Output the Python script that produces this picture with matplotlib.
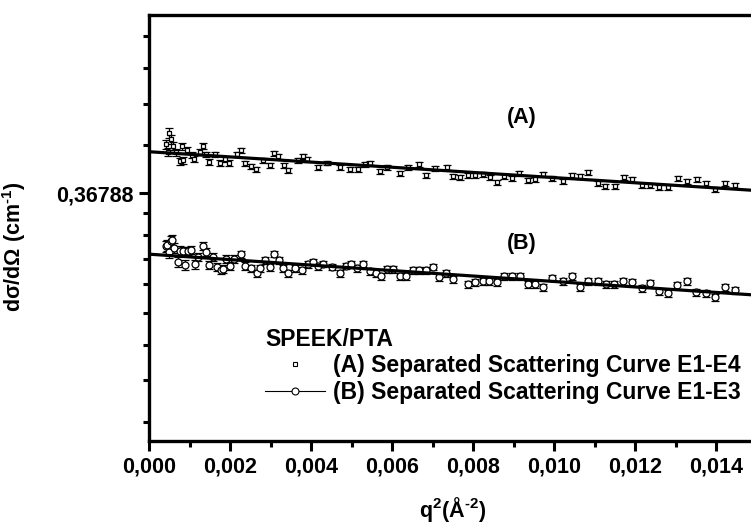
import numpy as np
import matplotlib
matplotlib.use('Agg')
import matplotlib.pyplot as plt
from matplotlib.lines import Line2D
from matplotlib.ticker import FixedLocator, FuncFormatter, MultipleLocator

plt.rcParams['font.family'] = ['Liberation Sans', 'DejaVu Sans']
plt.rcParams['font.weight'] = 'bold'
plt.rcParams['mathtext.fontset'] = 'custom'
plt.rcParams['mathtext.rm'] = 'Liberation Sans:bold'
plt.rcParams['mathtext.it'] = 'Liberation Sans:bold'
plt.rcParams['mathtext.bf'] = 'Liberation Sans:bold'

# (A) Separated Scattering Curve E1-E4
q2_a = [0.00042, 0.00046, 0.00049, 0.00054, 0.00059, 0.00067, 0.00077, 0.00081, 0.00084, 0.00094,
        0.00106, 0.00111, 0.00126, 0.00133, 0.00141, 0.00148, 0.00163, 0.00175, 0.00188, 0.00198,
        0.00217, 0.00227, 0.00237, 0.00252, 0.00264, 0.00281, 0.00299, 0.00309, 0.00319, 0.00333,
        0.00343, 0.00368, 0.00380, 0.00390, 0.00417, 0.00440, 0.00472, 0.00496, 0.00516, 0.00533,
        0.00546, 0.00570, 0.00588, 0.00620, 0.00640, 0.00667, 0.00684, 0.00706, 0.00736, 0.00751,
        0.00768, 0.00788, 0.00805, 0.00825, 0.00842, 0.00859, 0.00877, 0.00896, 0.00914, 0.00936,
        0.00953, 0.00973, 0.00995, 0.01022, 0.01044, 0.01064, 0.01084, 0.01109, 0.01126, 0.01151,
        0.01173, 0.01193, 0.01217, 0.01237, 0.01259, 0.01281, 0.01306, 0.01328, 0.01353, 0.01375,
        0.01398, 0.01422, 0.01447]
i_a = [0.4391, 0.4266, 0.4568, 0.4471, 0.4359, 0.4266, 0.4129, 0.4359, 0.4144, 0.4297,
       0.4220, 0.4159, 0.4266, 0.4359, 0.4235, 0.4114, 0.4235, 0.4100, 0.4159, 0.4100,
       0.4235, 0.4297, 0.4100, 0.4056, 0.4012, 0.4144, 0.4070, 0.4250, 0.4205, 0.4070,
       0.3997, 0.4144, 0.4205, 0.4159, 0.4041, 0.4100, 0.4041, 0.4012, 0.4012, 0.4085,
       0.4100, 0.3983, 0.4041, 0.3954, 0.4041, 0.4085, 0.3926, 0.4026, 0.4041, 0.3912,
       0.3898, 0.3926, 0.3926, 0.3940, 0.3898, 0.3828, 0.3912, 0.3884, 0.3954, 0.3855,
       0.3869, 0.3940, 0.3884, 0.3842, 0.3926, 0.3912, 0.3968, 0.3814, 0.3773, 0.3773,
       0.3898, 0.3869, 0.3787, 0.3787, 0.3759, 0.3759, 0.3884, 0.3842, 0.3869, 0.3814,
       0.3732, 0.3814, 0.3787]
err_a = [0.0070, 0.0065, 0.0085, 0.0070, 0.0060, 0.0055, 0.0055, 0.0055, 0.0050, 0.0050,
         0.0045, 0.0045, 0.0045, 0.0045, 0.0040, 0.0040, 0.0040, 0.0040, 0.0040, 0.0040,
         0.0040, 0.0040, 0.0038, 0.0038, 0.0038, 0.0038, 0.0038, 0.0038, 0.0038, 0.0036,
         0.0036, 0.0036, 0.0036, 0.0036, 0.0035, 0.0035, 0.0035, 0.0035, 0.0035, 0.0035,
         0.0035, 0.0035, 0.0035, 0.0035, 0.0035, 0.0035, 0.0035, 0.0035, 0.0035, 0.0035,
         0.0035, 0.0035, 0.0035, 0.0035, 0.0035, 0.0035, 0.0035, 0.0035, 0.0035, 0.0035,
         0.0035, 0.0035, 0.0035, 0.0035, 0.0035, 0.0035, 0.0035, 0.0035, 0.0035, 0.0035,
         0.0035, 0.0035, 0.0035, 0.0035, 0.0035, 0.0035, 0.0035, 0.0035, 0.0035, 0.0035,
         0.0035, 0.0035, 0.0035]

# (B) Separated Scattering Curve E1-E3
q2_b = [0.00042, 0.00044, 0.00049, 0.00054, 0.00057, 0.00062, 0.00072, 0.00077, 0.00085, 0.00088,
        0.00096, 0.00104, 0.00114, 0.00121, 0.00133, 0.00141, 0.00148, 0.00158, 0.00168, 0.00178,
        0.00183, 0.00190, 0.00200, 0.00210, 0.00227, 0.00237, 0.00252, 0.00267, 0.00274, 0.00286,
        0.00299, 0.00309, 0.00321, 0.00331, 0.00343, 0.00360, 0.00377, 0.00393, 0.00405, 0.00417,
        0.00430, 0.00452, 0.00472, 0.00486, 0.00499, 0.00514, 0.00528, 0.00546, 0.00560, 0.00573,
        0.00588, 0.00602, 0.00620, 0.00635, 0.00652, 0.00667, 0.00684, 0.00701, 0.00716, 0.00733,
        0.00751, 0.00788, 0.00805, 0.00825, 0.00840, 0.00859, 0.00877, 0.00896, 0.00916, 0.00936,
        0.00953, 0.00973, 0.00995, 0.01022, 0.01044, 0.01064, 0.01084, 0.01109, 0.01128, 0.01148,
        0.01170, 0.01193, 0.01217, 0.01237, 0.01259, 0.01281, 0.01304, 0.01328, 0.01351, 0.01375,
        0.01398, 0.01422, 0.01447]
i_b = [0.3038, 0.3049, 0.2973, 0.3094, 0.3105, 0.3016, 0.2868, 0.2984, 0.2984, 0.2837,
       0.2984, 0.2995, 0.2847, 0.2920, 0.3038, 0.2973, 0.2837, 0.2920, 0.2817, 0.2786,
       0.2796, 0.2899, 0.2827, 0.2899, 0.2952, 0.2827, 0.2806, 0.2756, 0.2806, 0.2888,
       0.2817, 0.2952, 0.2888, 0.2806, 0.2756, 0.2806, 0.2786, 0.2847, 0.2868, 0.2827,
       0.2847, 0.2817, 0.2756, 0.2827, 0.2847, 0.2806, 0.2847, 0.2776, 0.2756, 0.2726,
       0.2796, 0.2796, 0.2726, 0.2726, 0.2786, 0.2786, 0.2786, 0.2817, 0.2717, 0.2756,
       0.2697, 0.2649, 0.2668, 0.2677, 0.2677, 0.2668, 0.2726, 0.2726, 0.2726, 0.2649,
       0.2649, 0.2620, 0.2707, 0.2677, 0.2726, 0.2620, 0.2677, 0.2677, 0.2649, 0.2649,
       0.2677, 0.2668, 0.2611, 0.2658, 0.2583, 0.2564, 0.2639, 0.2677, 0.2573, 0.2564,
       0.2527, 0.2620, 0.2592]
err_b = [0.0060, 0.0060, 0.0065, 0.0055, 0.0060, 0.0055, 0.0050, 0.0050, 0.0045, 0.0050,
         0.0045, 0.0045, 0.0045, 0.0040, 0.0045, 0.0040, 0.0040, 0.0040, 0.0040, 0.0040,
         0.0040, 0.0040, 0.0038, 0.0038, 0.0038, 0.0038, 0.0036, 0.0036, 0.0036, 0.0036,
         0.0036, 0.0036, 0.0035, 0.0035, 0.0035, 0.0035, 0.0035, 0.0035, 0.0035, 0.0035,
         0.0034, 0.0034, 0.0034, 0.0034, 0.0034, 0.0034, 0.0034, 0.0034, 0.0034, 0.0034,
         0.0034, 0.0034, 0.0034, 0.0034, 0.0034, 0.0034, 0.0034, 0.0034, 0.0034, 0.0034,
         0.0033, 0.0033, 0.0033, 0.0033, 0.0033, 0.0033, 0.0033, 0.0033, 0.0033, 0.0033,
         0.0033, 0.0033, 0.0033, 0.0033, 0.0033, 0.0033, 0.0033, 0.0033, 0.0033, 0.0033,
         0.0033, 0.0033, 0.0033, 0.0033, 0.0033, 0.0033, 0.0033, 0.0033, 0.0033, 0.0033,
         0.0033, 0.0033, 0.0033]

x_ticks = [0.000, 0.002, 0.004, 0.006, 0.008, 0.010, 0.012, 0.014]
fs = 15.5
fs_leg = 16.5

fig = plt.figure(figsize=(7.51, 5.24), dpi=100)
ax = fig.add_axes([149 / 751, 83 / 524, 628 / 751, 426 / 524])

ax.errorbar(q2_a, i_a, yerr=err_a, fmt='s', ms=3, mfc='white', mec='black', mew=0.9,
            ecolor='black', elinewidth=0.9, capsize=3, capthick=0.9, zorder=3)
ax.errorbar(q2_b, i_b, yerr=err_b, fmt='o', ms=5, mfc='white', mec='black', mew=0.9,
            ecolor='black', elinewidth=0.9, capsize=3, capthick=0.9, zorder=3)

# linear (Guinier) fits of ln(I) against q^2
xfit = np.array([0.0, 0.0155])
pa = np.polyfit(q2_a, np.log(i_a), 1)
pb = np.polyfit(q2_b, np.log(i_b), 1)
ax.plot(xfit, np.exp(np.polyval(pa, xfit)), color='black', lw=2.3, zorder=4)
ax.plot(xfit, np.exp(np.polyval(pb, xfit)), color='black', lw=2.3, zorder=4)

ax.set_yscale('log', base=np.e)
ax.set_xlim(0, 0.0155)
ax.set_ylim(0.1503, 0.700)

e1, e2 = np.exp(-1), np.exp(-2)
ax.yaxis.set_major_locator(FixedLocator([e1]))
ax.yaxis.set_minor_locator(FixedLocator(list(np.linspace(e2, e1, 10)[1:-1]) +
                                        list(np.linspace(e1, 1.0, 10)[1:-1])))
ax.yaxis.set_major_formatter(FuncFormatter(lambda v, p: ('%.5f' % v).replace('.', ',')))
ax.yaxis.set_minor_formatter(FuncFormatter(lambda v, p: ''))

ax.xaxis.set_major_locator(FixedLocator(x_ticks))
ax.xaxis.set_minor_locator(MultipleLocator(0.001))
ax.xaxis.set_major_formatter(FuncFormatter(lambda v, p: ('%.3f' % v).replace('.', ',')))

for s in ['left', 'bottom', 'top', 'right']:
    ax.spines[s].set_linewidth(2.4)
ax.tick_params(which='major', direction='out', length=7, width=2.2, labelsize=fs, pad=4)
ax.tick_params(which='minor', direction='out', length=4, width=2.2)
ax.tick_params(top=False, right=False, which='both')

ax.set_xlabel('q$^{2}$(\u00c5$^{\\text{-2}}$)', fontsize=fs, fontweight='bold')
ax.set_ylabel('d\u03c3/d\u03a9 (cm$^{\\text{-1}}$)', fontsize=fs, fontweight='bold')
ax.xaxis.set_label_coords((453 - 149) / 628, -0.127)
ax.yaxis.set_label_coords(-0.192, 0.455)

ax.text(0.00921, 0.484, '(A)', fontsize=fs, fontweight='bold', ha='center', va='center')
ax.text(0.00921, 0.307, '(B)', fontsize=fs, fontweight='bold', ha='center', va='center')

h_a = Line2D([], [], ls='none', marker='s', ms=3, mfc='white', mec='black', mew=0.8)
h_b = Line2D([], [], color='black', lw=0.8, marker='o', ms=5, mfc='white', mec='black', mew=0.8)
leg = ax.legend([h_a, h_b], ['(A) Separated Scattering Curve E1-E4',
                             '(B) Separated Scattering Curve E1-E3'],
                title='SPEEK/PTA', title_fontproperties={'size': fs_leg, 'weight': 'bold'},
                prop={'size': fs_leg, 'weight': 'bold'}, frameon=False, alignment='left',
                numpoints=1, handlelength=2.6, handletextpad=0.35, labelspacing=0.15,
                borderpad=0, borderaxespad=0,
                loc='upper left', bbox_to_anchor=(116 / 628, (441 - 328) / 426))

fig.savefig('out.png', dpi=100)
